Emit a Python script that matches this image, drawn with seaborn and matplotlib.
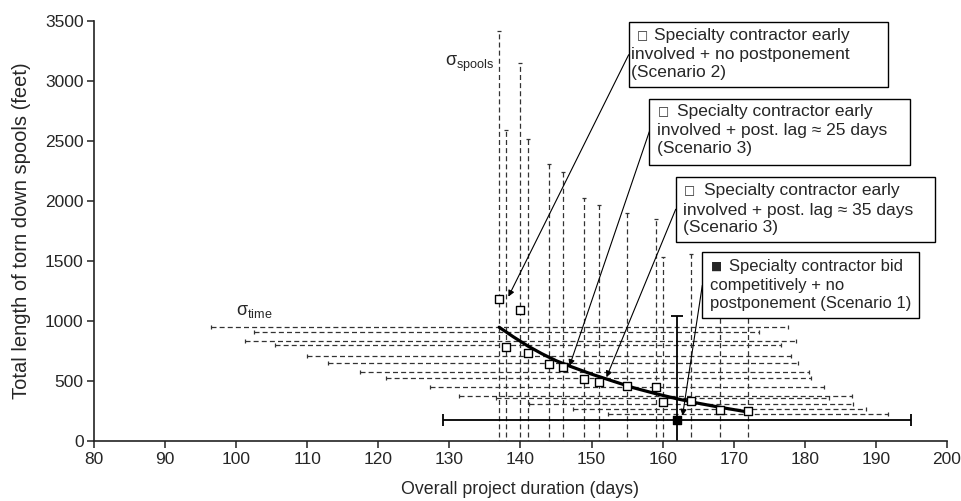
import seaborn as sns
import matplotlib.pyplot as plt
from matplotlib.patches import Rectangle

# early-involvement runs (scenarios 2 and 3)
duration = [137, 138, 140, 141, 144, 146, 149, 151, 155, 159, 160, 164, 168, 172]
spools = [1182, 785, 1090, 733, 647, 617, 517, 492, 459, 453, 328, 337, 262, 251]
spools_sd = [2230, 1804, 2059, 1779, 1660, 1621, 1505, 1474, 1438, 1397, 1203, 1222, 950, 900]
time_sd = [40.6, 35.5, 38.7, 35.6, 34.1, 33.1, 31.6, 29.9, 27.7, 27.7, 23.4, 22.8, 20.6, 19.7]
# sigma_time bars sit on the trend, not on the points themselves
time_bar_level = [952, 910, 835, 800, 711, 652, 578, 528, 450, 381, 362, 312, 268, 231]

# competitive bid (scenario 1)
bid_duration = [162]
bid_spools = [179]
bid_spools_sd = [864]
bid_time_sd = [32.9]

# trend line
trend_x = [137, 139, 141, 143, 145, 147, 150, 153, 156, 159, 162, 165, 168, 172]
trend_y = [950, 870, 795, 730, 672, 625, 560, 502, 445, 398, 355, 318, 285, 245]

callout_marks = ["\u25a1", "\u25a1", "\u25a1", "\u25a0"]
callout_head = ["Specialty contractor early", "Specialty contractor early",
                "Specialty contractor early", "Specialty contractor bid"]
callout_rest = [
    "involved + no postponement\n(Scenario 2)",
    "involved + post. lag \u2248 25 days\n(Scenario 3)",
    "involved + post. lag \u2248 35 days\n(Scenario 3)",
    "competitively + no\npostponement (Scenario 1)",
]

sns.set_style("ticks")
plt.rcParams['font.family'] = ['Liberation Sans', 'DejaVu Sans']
plt.rcParams['mathtext.default'] = 'regular'

fig = plt.figure(figsize=(9.61, 5.01), dpi=100)
ax = fig.add_axes([0.0978, 0.1188, 0.8876, 0.8402])

dash = (0, (4, 2.5))
eb = ax.errorbar(duration, spools, yerr=spools_sd, fmt='none', ecolor='#333333',
                 elinewidth=0.9, capsize=1.6, capthick=0.9, zorder=1)
eb[2][0].set_linestyle(dash)
eb = ax.errorbar(duration, time_bar_level, xerr=time_sd, fmt='none', ecolor='#333333',
                 elinewidth=0.9, capsize=1.6, capthick=0.9, zorder=1)
eb[2][0].set_linestyle(dash)
ax.errorbar(bid_duration, bid_spools, xerr=bid_time_sd, yerr=bid_spools_sd, fmt='none',
            ecolor='black', elinewidth=1.3, capsize=4, capthick=1.3, zorder=2)

sns.lineplot(x=trend_x, y=trend_y, color='black', linewidth=2.3, ax=ax, zorder=3)
sns.scatterplot(x=duration, y=spools, marker='s', s=40, facecolor='white',
                edgecolor='black', linewidth=1.0, ax=ax, zorder=4)
sns.scatterplot(x=bid_duration, y=bid_spools, marker='s', s=40, color='black',
                edgecolor='black', linewidth=1.0, ax=ax, zorder=4)

ax.text(99.98, 1052, r'$\sigma_{time}$', fontsize=13, va='baseline', ha='left')
ax.text(129.38, 3121, r'$\sigma_{spools}$', fontsize=13, va='baseline', ha='left')

# hand-drawn style callout boxes: (x0, x1, y0, y1), text anchor, arrow tip
boxes = [(155.22, 191.70, 2944, 3487), (158.12, 194.80, 2301, 2850),
         (161.84, 198.32, 1661, 2201), (165.58, 196.02, 1024, 1573)]
text_xy = [(155.48, 3221), (159.16, 2589), (162.91, 1930), (166.73, 1301)]
tips = [(138.3, 1204), (146.9, 628), (152.1, 534), (162.8, 215)]
mark_dx = [0.95, 0.2, 0.15, 0.0]     # glyph indent, days
head_dx = [3.31, 2.86, 2.86, 2.6]    # first-line indent, days
sizes = [12.5, 12.5, 12.5, 12.0]
spacing = [1.19, 1.19, 1.19, 1.26]
line_step = [156, 156, 156, 158]     # one text line, in feet
for i in range(len(callout_head)):
    x0, x1, y0, y1 = boxes[i]
    tx, ty = text_xy[i]
    ax.add_patch(Rectangle((x0, y0), x1 - x0, y1 - y0, facecolor='white',
                           edgecolor='black', linewidth=1.0, zorder=5))
    ax.text(tx + mark_dx[i], ty + line_step[i], callout_marks[i], ha='left', va='center',
            fontsize=8.5, family='DejaVu Sans', zorder=6)
    ax.text(tx + head_dx[i], ty + line_step[i], callout_head[i], ha='left', va='center',
            fontsize=sizes[i], zorder=6)
    ax.text(tx, ty - line_step[i] / 2, callout_rest[i], ha='left', va='center',
            fontsize=sizes[i], linespacing=spacing[i], zorder=6)
    ax.annotate('', xy=tips[i], xytext=(x0, (y0 + y1) / 2), zorder=5,
                arrowprops=dict(arrowstyle='-|>', color='black', lw=0.8, mutation_scale=9,
                                shrinkA=0, shrinkB=0))

ax.set_xlim(80, 200)
ax.set_ylim(0, 3500)
ax.set_xticks(range(80, 201, 10))
ax.set_yticks(range(0, 3501, 500))
ax.tick_params(direction='out', length=5, width=1.1, labelsize=12.5, color='#222222', pad=2.5)
for side in ['left', 'bottom']:
    ax.spines[side].set_linewidth(1.2)
    ax.spines[side].set_color('#222222')
sns.despine(ax=ax)
ax.set_xlabel('Overall project duration (days)', fontsize=12.8, labelpad=10)
ax.set_ylabel('Total length of torn down spools (feet)', fontsize=14.5, labelpad=10)

fig.savefig('out.png', dpi=100)
